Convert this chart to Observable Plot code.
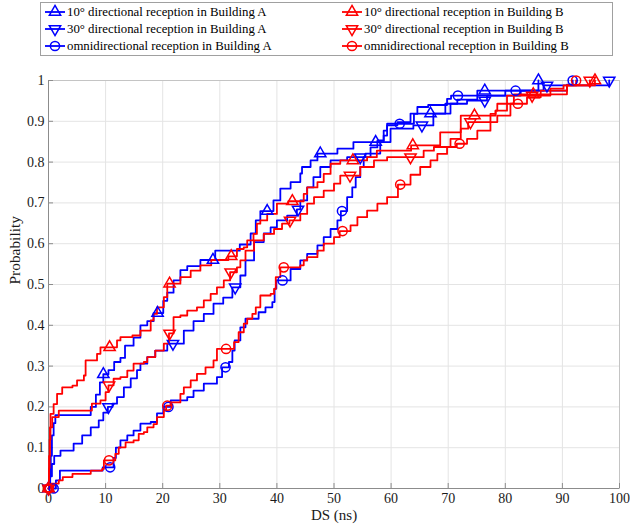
<!DOCTYPE html>
<html><head><meta charset="utf-8">
<script src="https://cdn.jsdelivr.net/npm/d3@7"></script>
<script src="https://cdn.jsdelivr.net/npm/@observablehq/plot@0.6"></script>
<style>
body{margin:0;background:#fff;}
#wrap{position:relative;width:630px;height:527px;}
#legend{position:absolute;left:40px;top:2px;}
</style></head><body><div id="wrap"></div>
<script>
// Tick labels
const xTicks = [0,10,20,30,40,50,60,70,80,90,100];
const yTicks = [0,0.1,0.2,0.3,0.4,0.5,0.6,0.7,0.8,0.9,1];

// Series labels
const labels = [
  "10° directional reception in Building A",
  "30° directional reception in Building A",
  "omnidirectional reception in Building A",
  "10° directional reception in Building B",
  "30° directional reception in Building B",
  "omnidirectional reception in Building B"
];

// Empirical CDF knots (DS in ns, probability)
const dsA10  = [0,0.2,0.4,0.6,0.9,1.2,7.4,8.3,9.0,9.6,10.5,11.5,12.6,13.4,14.9,16.1,17.3,18.4,20.1,20.8,21.9,23.1,24.3,26.6,29.2,33.5,35.4,36.3,37.1,39.4,40.6,42.4,44.1,44.4,45.9,47.1,50.6,53.4,58.7,59.3,61.1,63.4,69.5,71.6,75.1,85.8];
const cdfA10 = [0,0.03,0.08,0.13,0.16,0.18,0.2,0.23,0.26,0.28,0.29,0.31,0.32,0.35,0.37,0.40,0.41,0.43,0.46,0.48,0.51,0.535,0.545,0.56,0.583,0.598,0.625,0.657,0.68,0.706,0.735,0.751,0.772,0.788,0.804,0.821,0.833,0.849,0.865,0.89,0.898,0.919,0.943,0.953,0.975,1.0];

const dsA30  = [0,0.3,0.6,1.0,2.1,4.4,5.9,7.4,8.8,9.6,10.4,11.2,12,13.2,14.4,15.5,16.1,17.3,18.7,20.8,23.7,25.4,27.2,28.9,30.6,32.2,33.6,34.5,36,37.7,38.9,40,41.8,43.5,44.1,45.3,46.4,47.6,49.4,52.3,55.5,58.1,59.9,63.9,67.4,70.4,73.3,76.8,82.7,86.7,98.2];
const cdfA30 = [0,0.03,0.06,0.08,0.093,0.11,0.13,0.15,0.167,0.186,0.2,0.208,0.224,0.248,0.27,0.29,0.306,0.322,0.338,0.355,0.387,0.41,0.428,0.453,0.468,0.493,0.522,0.559,0.604,0.625,0.64,0.657,0.669,0.684,0.706,0.738,0.763,0.788,0.804,0.812,0.821,0.849,0.882,0.89,0.919,0.943,0.951,0.963,0.975,0.988,1.0];

const dsAomni  = [0.9,1.3,2.0,9.5,11.4,11.8,12.6,13.8,14.9,16.1,17.9,19,20.1,21.4,24.3,25.4,27.2,29.5,30.4,31.6,32.2,32.6,33.6,34.5,36.8,38,39.2,39.6,39.9,42.4,44.1,45.3,47.1,48.2,49.4,50.6,51.2,52.3,53.2,53.8,54.6,55.2,56.4,57.6,58.7,59.3,64,64.6,66.5,69.8,70.5,80,90.8,91.8];
const cdfAomni = [0,0.02,0.044,0.052,0.075,0.10,0.118,0.13,0.142,0.159,0.163,0.184,0.2,0.216,0.224,0.24,0.257,0.273,0.297,0.31,0.338,0.363,0.395,0.416,0.432,0.444,0.457,0.49,0.51,0.538,0.559,0.575,0.596,0.616,0.636,0.657,0.68,0.714,0.738,0.763,0.788,0.812,0.836,0.853,0.877,0.894,0.918,0.935,0.94,0.955,0.963,0.975,0.99,1.0];

const dsB10  = [0,0.1,0.2,0.35,0.9,1.5,2.4,4.2,5,6.2,6.5,8.5,9.1,12,12.6,14.7,16.1,17.9,18.4,19,20.2,20.8,23.1,24.9,26.6,28.5,31.5,33,34.2,34.8,35.9,36.5,37.1,38.3,40,42,44.7,45.3,47.1,48.2,49.4,51.1,55.8,57.5,63.5,68.6,72.2,78.3,78.6,81.5,90.8,95.7];
const cdfB10 = [0,0.05,0.12,0.183,0.207,0.232,0.248,0.252,0.265,0.277,0.314,0.33,0.346,0.363,0.371,0.375,0.387,0.412,0.428,0.444,0.469,0.502,0.518,0.534,0.547,0.56,0.569,0.587,0.591,0.608,0.624,0.649,0.657,0.673,0.698,0.704,0.722,0.738,0.751,0.771,0.796,0.804,0.812,0.828,0.841,0.873,0.914,0.926,0.943,0.966,0.988,1.0];

const dsB30  = [0,0.1,0.25,0.65,1.8,7.6,9.1,10,10.5,11.4,12.6,13.8,14.9,16.7,17.3,18.7,20.2,21.1,21.9,23.1,24.3,26,27.2,28.4,29.5,30.7,31.8,33,33.6,34.5,36,37.7,39.5,40.9,42.2,44.1,45.3,46.5,48.2,50,51.1,54.6,57,59.3,65.7,67.5,70.4,72.2,73.5,77.4,78.3,80.3,87.9,90.2,94.8];
const cdfB30 = [0,0.08,0.15,0.175,0.191,0.208,0.216,0.236,0.253,0.269,0.273,0.289,0.306,0.31,0.322,0.338,0.355,0.38,0.42,0.424,0.436,0.444,0.461,0.477,0.493,0.51,0.53,0.542,0.559,0.583,0.608,0.624,0.636,0.649,0.657,0.673,0.698,0.714,0.73,0.747,0.767,0.788,0.804,0.812,0.828,0.837,0.857,0.882,0.898,0.918,0.926,0.963,0.98,0.988,1.0];

const dsBomni  = [0,0.5,1.8,2.5,4.2,7.4,9.4,9.7,11.7,12.3,13.5,14.9,15.8,16.7,17.3,18.4,19,20.2,20.6,21.4,23.1,23.7,24.9,26,27.5,28.9,29.5,32.5,33.3,34.2,34.8,35.7,36.3,37.1,38.9,39.5,39.8,40.6,44.1,44.7,45.3,47.1,48.2,50,51,52.9,54.1,55.8,57.6,59.3,61.2,63.4,65.1,66.9,68.1,69.8,71.5,73.3,75.1,77.4,78.6,80.9,83.8,86.2,90.8,92.4];
const cdfBomni = [0,0.012,0.02,0.028,0.036,0.044,0.048,0.069,0.085,0.101,0.113,0.118,0.134,0.138,0.15,0.158,0.175,0.191,0.203,0.211,0.232,0.248,0.265,0.281,0.297,0.314,0.342,0.359,0.383,0.404,0.416,0.428,0.444,0.473,0.477,0.489,0.518,0.542,0.547,0.559,0.567,0.583,0.6,0.616,0.631,0.645,0.665,0.681,0.698,0.714,0.745,0.769,0.788,0.804,0.82,0.837,0.845,0.857,0.877,0.898,0.914,0.943,0.959,0.975,0.988,1.0];

// Marker positions along each curve (DS, ns)
const markA10   = [0,9.6,19.1,28.8,38.3,47.6,57.3,66.9,76.4,85.8];
const markA30   = [0,10.5,21.8,32.7,43.7,54.6,65.4,76.4,87.3,98.2];
const markAomni = [0.9,10.8,21,31,41,51.4,61.5,71.7,81.8,91.8];
const markB10   = [0,10.7,21.2,32.0,42.7,53.3,63.8,74.6,84.9,95.7];
const markB30   = [0,10.6,21.2,31.9,42.3,52.8,63.4,73.9,84.7,94.8];
const markBomni = [0,10.6,20.8,31.1,41.2,51.5,61.6,72.0,82.2,92.4];

const BLUE = "#0000ff", RED = "#ff0000";
const sqrt3 = Math.sqrt(3);
const triDown = {draw(ctx, size){ const y = -Math.sqrt(size/(sqrt3*3)); ctx.moveTo(0,-2*y); ctx.lineTo(-sqrt3*y, y); ctx.lineTo(sqrt3*y, y); ctx.closePath(); }};

const series = [
  {label: labels[0], xs: dsA10,   ys: cdfA10,   marks: markA10,   color: BLUE, sym: "triangle"},
  {label: labels[1], xs: dsA30,   ys: cdfA30,   marks: markA30,   color: BLUE, sym: triDown},
  {label: labels[2], xs: dsAomni, ys: cdfAomni, marks: markAomni, color: BLUE, sym: "circle"},
  {label: labels[3], xs: dsB10,   ys: cdfB10,   marks: markB10,   color: RED,  sym: "triangle"},
  {label: labels[4], xs: dsB30,   ys: cdfB30,   marks: markB30,   color: RED,  sym: triDown},
  {label: labels[5], xs: dsBomni, ys: cdfBomni, marks: markBomni, color: RED,  sym: "circle"}
];

function stepValue(s, x){ let v = s.ys[0]; for (let i=0;i<s.xs.length;i++){ if (s.xs[i] <= x + 1e-9) v = s.ys[i]; } return v; }

const FONT = "'Liberation Serif','Times New Roman',serif";
const marks = [
  Plot.gridX(xTicks, {stroke:"#e4e4e4", strokeOpacity:1}),
  Plot.gridY(yTicks, {stroke:"#e4e4e4", strokeOpacity:1}),
  Plot.frame({stroke:"#c4c4c4"}),
  Plot.ruleX([0], {stroke:"#8c8c8c"}),
  Plot.ruleY([0], {stroke:"#8c8c8c"}),
  Plot.tickX(xTicks, {x: d=>d, insetTop: 403, stroke:"#8c8c8c"}),
  Plot.tickY(yTicks, {y: d=>d, insetRight: 566, stroke:"#8c8c8c"}),
  Plot.axisX(xTicks, {tickSize:0, tickPadding:5, fontSize:14, fill:"#1a1a1a", tickFormat: d=>String(d), label:null}),
  Plot.axisY(yTicks, {tickSize:0, tickPadding:4, fontSize:14, fill:"#1a1a1a", tickFormat: d=>String(d), label:null})
];
for (const s of series) {
  const pts = s.xs.map((x,i)=>({x, y:s.ys[i]}));
  marks.push(Plot.line(pts, {x:"x", y:"y", curve:"step-after", stroke:s.color, strokeWidth:1.8}));
}
for (const s of series) {
  const mpts = s.marks.map(x=>({x, y:stepValue(s,x)}));
  marks.push(Plot.dot(mpts, {x:"x", y:"y", symbol:s.sym, r: s.sym==="circle"?4.6:4.2, stroke:s.color, fill:"none", strokeWidth:1.5}));
}
marks.push(Plot.text(["DS (ns)"], {frameAnchor:"bottom", dy:31, fontSize:15, fill:"#1a1a1a"}));
marks.push(Plot.text(["Probability"], {frameAnchor:"left", dx:-33, rotate:-90, fontSize:15.4, fill:"#1a1a1a"}));

const chart = Plot.plot({
  width:630, height:527,
  marginLeft:48, marginRight:11, marginTop:80, marginBottom:39,
  style:{fontFamily:FONT, fontSize:"14px", background:"#fff", overflow:"visible"},
  x:{domain:[0,100]},
  y:{domain:[0,1]},
  marks
});
const wrap = document.getElementById("wrap");
wrap.appendChild(chart);

// Legend (two columns: Building A left, Building B right)
const lg = d3.select(wrap).append("svg").attr("id","legend").attr("width",573).attr("height",55);
lg.append("rect").attr("x",0.5).attr("y",0.5).attr("width",572).attr("height",53).attr("fill","#fff").attr("stroke","#a0a0a0");
series.forEach((s,i)=>{
  const col = i<3 ? 0 : 1, row = i%3;
  const x0 = col===0 ? 5 : 302, y0 = 10 + row*17;
  const g = lg.append("g");
  g.append("line").attr("x1",x0).attr("x2",x0+20).attr("y1",y0).attr("y2",y0).attr("stroke",s.color).attr("stroke-width",1.8);
  const type = s.sym==="triangle" ? d3.symbolTriangle : s.sym==="circle" ? d3.symbolCircle : triDown;
  const r = s.sym==="circle"?4.6:4.2;
  g.append("path").attr("d", d3.symbol(type, Math.PI*r*r)()).attr("transform",`translate(${x0+10},${y0})`).attr("fill","none").attr("stroke",s.color).attr("stroke-width",1.5);
  g.append("text").attr("x",x0+22).attr("y",y0).attr("dy","0.35em").attr("font-family",FONT).attr("font-size",12.8).attr("fill","#000").text(s.label);
});
</script></body></html>
